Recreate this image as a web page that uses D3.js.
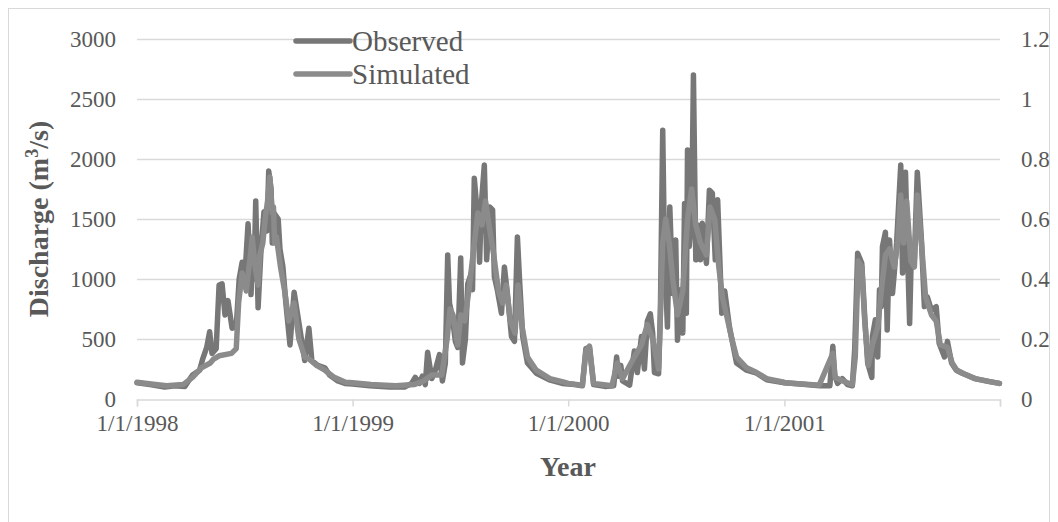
<!DOCTYPE html>
<html>
<head>
<meta charset="utf-8">
<script src="https://cdn.jsdelivr.net/npm/d3@7"></script>
<style>
  body { margin: 0; background: #fff; }
  svg { display: block; font-family: 'Liberation Serif', 'Times New Roman', serif; }
</style>
</head>
<body>
<div id="chart"></div>
<script>
// observed discharge, m3/s
var observedDates = [
  '1998-01-01','1998-01-23','1998-02-17','1998-03-06','1998-03-23','1998-04-05','1998-04-17','1998-04-22','1998-04-29','1998-05-04',
  '1998-05-08','1998-05-15','1998-05-20','1998-05-25','1998-05-30','1998-06-04','1998-06-11','1998-06-18','1998-06-23','1998-06-28',
  '1998-07-03','1998-07-08','1998-07-13','1998-07-16','1998-07-18','1998-07-21','1998-07-25','1998-07-30','1998-08-04','1998-08-09',
  '1998-08-12','1998-08-16','1998-08-18','1998-08-21','1998-08-28','1998-08-31','1998-09-05','1998-09-10','1998-09-17','1998-09-24',
  '1998-09-30','1998-10-07','1998-10-12','1998-10-19','1998-10-24','1998-11-03','1998-11-15','1998-11-23','1998-12-07','1998-12-19',
  '1999-01-01','1999-01-30','1999-03-05','1999-03-30','1999-04-11','1999-04-17','1999-04-24','1999-04-29','1999-05-04','1999-05-08',
  '1999-05-15','1999-05-21','1999-05-28','1999-06-02','1999-06-07','1999-06-11','1999-06-14','1999-06-19','1999-06-24','1999-06-28',
  '1999-07-03','1999-07-06','1999-07-11','1999-07-15','1999-07-21','1999-07-23','1999-07-26','1999-08-01','1999-08-04','1999-08-07',
  '1999-08-12','1999-08-16','1999-08-21','1999-08-26','1999-08-29','1999-09-03','1999-09-10','1999-09-15','1999-09-20','1999-09-27',
  '1999-10-02','1999-10-07','1999-10-11','1999-10-16','1999-10-24','1999-11-08','1999-11-30','1999-12-22',
  '2000-01-01','2000-01-12','2000-01-25','2000-01-31','2000-02-06','2000-02-13','2000-03-03','2000-03-18','2000-03-23','2000-03-26',
  '2000-03-30','2000-04-02','2000-04-14','2000-04-22','2000-04-27','2000-05-04','2000-05-09','2000-05-14','2000-05-19','2000-05-23',
  '2000-05-26','2000-06-02','2000-06-05','2000-06-09','2000-06-12','2000-06-17','2000-06-21','2000-06-26','2000-07-01','2000-07-04',
  '2000-07-09','2000-07-13','2000-07-16','2000-07-19','2000-07-21','2000-07-24','2000-07-28','2000-07-31','2000-08-04','2000-08-07',
  '2000-08-12','2000-08-15','2000-08-22','2000-08-27','2000-09-01','2000-09-06','2000-09-10','2000-09-17','2000-09-22','2000-09-30',
  '2000-10-12','2000-10-29','2000-11-15','2000-12-02',
  '2001-01-01','2001-01-27','2001-03-02','2001-03-19','2001-03-24','2001-03-27','2001-04-01','2001-04-09','2001-04-18','2001-04-26',
  '2001-04-30','2001-05-05','2001-05-12','2001-05-17','2001-05-22','2001-05-29','2001-05-30','2001-06-04','2001-06-08','2001-06-11',
  '2001-06-14','2001-06-16','2001-06-21','2001-06-24','2001-06-28','2001-07-03','2001-07-06','2001-07-10','2001-07-17','2001-07-20',
  '2001-07-25','2001-07-29','2001-08-01','2001-08-04','2001-08-09','2001-08-14','2001-08-21','2001-08-26','2001-08-31','2001-09-07',
  '2001-09-15','2001-09-20','2001-09-29','2001-10-04','2001-10-11','2001-10-19','2001-10-29','2001-11-19','2001-12-14','2001-12-31'
];
var observedValues = [
  135,120,100,110,105,200,240,330,430,560,
  380,420,950,960,700,820,590,600,1000,1140,
  1050,1460,870,1200,1000,1650,760,1250,1560,1400,
  1900,1750,1300,1550,1500,1250,1100,800,450,890,
  700,480,320,590,320,280,260,200,150,130,
  125,110,100,100,130,180,130,190,120,390,
  170,240,370,150,300,1200,800,680,480,430,
  1175,300,500,960,1050,910,1840,1490,1140,1630,
  1950,1160,1600,1575,1020,910,715,1100,880,520,
  480,1350,960,520,300,215,160,130,
  125,120,110,420,430,120,105,110,350,190,
  280,150,115,400,220,520,250,650,710,550,
  220,210,700,2240,1215,600,1600,880,1325,490,
  910,550,1630,715,2075,1270,1500,2700,1160,1450,
  1160,1465,1130,1740,1715,1160,1660,715,900,600,
  300,240,215,160,
  135,125,110,110,440,200,130,170,120,110,
  410,1215,1130,680,300,180,520,660,350,910,
  770,1270,1390,575,1325,880,1050,1300,1950,1050,
  1890,1130,630,1240,1160,1890,1325,770,850,740,
  770,465,350,480,300,240,215,170,145,130
];

// simulated discharge, m3/s
var simulatedDates = [
  '1998-01-01','1998-01-25','1998-02-20','1998-03-20','1998-04-05','1998-04-20','1998-05-05','1998-05-10','1998-05-20','1998-06-10',
  '1998-06-18','1998-06-22','1998-06-28','1998-07-05','1998-07-12','1998-07-15','1998-07-20','1998-07-25','1998-07-28','1998-08-02',
  '1998-08-06','1998-08-10','1998-08-14','1998-08-18','1998-08-20','1998-08-22','1998-08-25','1998-09-01','1998-09-08','1998-09-15',
  '1998-09-24','1998-10-02','1998-10-12','1998-10-20','1998-11-01','1998-11-15','1998-12-01','1998-12-20',
  '1999-01-01','1999-02-01','1999-03-15','1999-04-15','1999-05-01','1999-05-15','1999-06-01','1999-06-10','1999-06-15','1999-06-20',
  '1999-06-28','1999-07-03','1999-07-10','1999-07-18','1999-07-25','1999-08-01','1999-08-08','1999-08-14','1999-08-20','1999-08-28',
  '1999-09-05','1999-09-12','1999-09-18','1999-09-25','1999-10-03','1999-10-08','1999-10-15','1999-10-24','1999-11-08','1999-12-01',
  '1999-12-25',
  '2000-01-01','2000-01-25','2000-01-31','2000-02-06','2000-02-13','2000-03-15','2000-03-24','2000-04-02','2000-04-22','2000-05-04',
  '2000-05-14','2000-05-23','2000-06-02','2000-06-09','2000-06-14','2000-06-20','2000-06-26','2000-07-04','2000-07-13','2000-07-21',
  '2000-07-28','2000-08-04','2000-08-12','2000-08-22','2000-08-28','2000-09-05','2000-09-12','2000-09-18','2000-09-25','2000-10-04',
  '2000-10-12','2000-10-29','2000-11-15','2000-12-02','2000-12-31',
  '2001-01-01','2001-02-01','2001-03-01','2001-03-24','2001-03-28','2001-04-10','2001-04-26','2001-05-01','2001-05-06','2001-05-12',
  '2001-05-17','2001-05-23','2001-05-30','2001-06-08','2001-06-14','2001-06-21','2001-06-28','2001-07-06','2001-07-12','2001-07-17',
  '2001-07-22','2001-07-27','2001-08-03','2001-08-09','2001-08-14','2001-08-21','2001-08-28','2001-09-07','2001-09-15','2001-09-22',
  '2001-10-04','2001-10-12','2001-10-20','2001-11-01','2001-11-20','2001-12-15','2001-12-31'
];
var simulatedValues = [
  140,125,110,120,180,260,300,330,360,380,
  420,800,1050,900,1200,1350,1100,950,1200,1300,
  1500,1650,1850,1550,1600,1300,1350,1100,900,650,
  800,500,350,330,280,240,180,140,
  135,120,110,120,150,200,200,500,750,700,
  450,700,650,950,1250,1550,1450,1650,1450,1200,
  900,800,950,650,550,950,600,350,240,170,
  140,
  130,115,400,440,130,110,300,170,350,450,
  620,500,250,1300,1500,1300,1000,700,900,1500,
  1750,1450,1300,1200,1600,1500,1100,850,700,500,
  350,260,220,170,140,
  135,125,115,380,180,150,120,350,1150,1100,
  650,280,450,600,900,1200,1250,1100,1300,1700,
  1300,1650,1150,1100,1700,1300,850,700,650,450,
  430,300,240,210,170,145,130
];

var yTicksLeft = [0, 500, 1000, 1500, 2000, 2500, 3000];
var yTicksRight = [0, 0.2, 0.4, 0.6, 0.8, 1, 1.2];
var xTickDates = ['1998-01-01', '1999-01-01', '2000-01-01', '2001-01-01'];
var seriesNames = ['Observed', 'Simulated'];
var seriesColors = ['#777777', '#8b8b8b'];

var W = 1058, H = 522;
var margin = {left: 137, right: 58, top: 39, bottom: 123};
var parse = d3.timeParse('%Y-%m-%d');
var fmt = d3.timeFormat('%-m/%-d/%Y');

var svg = d3.select('#chart').append('svg')
    .attr('width', W)
    .attr('height', H);

// chart border (bottom edge falls outside the picture)
svg.append('rect')
    .attr('x', 8.5).attr('y', 8.5)
    .attr('width', W - 17).attr('height', H + 20)
    .attr('fill', 'none')
    .attr('stroke', '#d9d9d9');

var x = d3.scaleTime()
    .domain([parse('1998-01-01'), parse('2002-01-01')])
    .range([margin.left, W - margin.right]);
var y = d3.scaleLinear()
    .domain([0, 3000])
    .range([H - margin.bottom, margin.top]);
var y2 = d3.scaleLinear()
    .domain([0, 1.2])
    .range([H - margin.bottom, margin.top]);

// gridlines
svg.append('g').selectAll('line')
    .data(yTicksLeft.filter(function(d) { return d > 0; }))
    .enter().append('line')
    .attr('x1', margin.left).attr('x2', W - margin.right)
    .attr('y1', function(d) { return Math.round(y(d)) + 0.5; })
    .attr('y2', function(d) { return Math.round(y(d)) + 0.5; })
    .attr('stroke', '#d9d9d9')
    .attr('stroke-width', 1.5);

// left axis labels
svg.append('g').selectAll('text')
    .data(yTicksLeft)
    .enter().append('text')
    .attr('x', 116)
    .attr('y', function(d) { return y(d) + 8; })
    .attr('text-anchor', 'end')
    .attr('font-size', 23)
    .attr('fill', '#595959')
    .text(function(d) { return d; });

// right axis labels
svg.append('g').selectAll('text')
    .data(yTicksRight)
    .enter().append('text')
    .attr('x', 1021)
    .attr('y', function(d) { return y2(d) + 8; })
    .attr('text-anchor', 'start')
    .attr('font-size', 23)
    .attr('fill', '#595959')
    .text(function(d) { return d; });

// x axis
var xAxis = d3.axisBottom(x)
    .tickValues(xTickDates.map(parse).concat([parse('2002-01-01')]))
    .tickSize(7)
    .tickFormat(function(d) { return xTickDates.indexOf(d3.timeFormat('%Y-%m-%d')(d)) >= 0 ? fmt(d) : ''; });

var gx = svg.append('g')
    .attr('transform', 'translate(0,' + (H - margin.bottom + 0.5) + ')')
    .call(xAxis);
gx.select('.domain').attr('stroke', '#d9d9d9').attr('stroke-width', 1.5);
gx.selectAll('.tick line').attr('stroke', '#d9d9d9').attr('stroke-width', 1.5);
gx.selectAll('.tick text')
    .attr('font-family', 'Liberation Serif, Times New Roman, serif')
    .attr('font-size', 23)
    .attr('fill', '#595959')
    .attr('dy', '0.95em');

// series
var line = d3.line()
    .x(function(d) { return x(d.date); })
    .y(function(d) { return y(d.value); });

function buildSeries(dates, values) {
    return dates.map(function(d, i) { return {date: parse(d), value: values[i]}; });
}

var series = [
    buildSeries(observedDates, observedValues),
    buildSeries(simulatedDates, simulatedValues)
];

svg.append('g').selectAll('path')
    .data(series)
    .enter().append('path')
    .attr('d', line)
    .attr('fill', 'none')
    .attr('stroke', function(d, i) { return seriesColors[i]; })
    .attr('stroke-width', 5.5)
    .attr('stroke-linejoin', 'round')
    .attr('stroke-linecap', 'round');

// legend
var legend = svg.append('g').selectAll('g')
    .data(seriesNames)
    .enter().append('g')
    .attr('transform', function(d, i) { return 'translate(296,' + (41 + i * 33) + ')'; });
legend.append('line')
    .attr('x1', 0).attr('x2', 54)
    .attr('stroke', function(d, i) { return seriesColors[i]; })
    .attr('stroke-width', 5.5)
    .attr('stroke-linecap', 'round');
legend.append('text')
    .attr('x', 56)
    .attr('y', 10)
    .attr('font-size', 29)
    .attr('fill', '#595959')
    .text(function(d) { return d; });

// axis titles
svg.append('text')
    .attr('transform', 'translate(48,219) rotate(-90)')
    .attr('text-anchor', 'middle')
    .attr('font-size', 28)
    .attr('font-weight', 'bold')
    .attr('fill', '#595959')
    .text('Discharge (m')
    .append('tspan').attr('dy', -10).attr('font-size', 18).text('3')
    .select(function() { return this.parentNode; })
    .append('tspan').attr('dy', 10).text('/s)');

svg.append('text')
    .attr('x', 568)
    .attr('y', 476)
    .attr('text-anchor', 'middle')
    .attr('font-size', 28)
    .attr('font-weight', 'bold')
    .attr('fill', '#595959')
    .text('Year');
</script>
</body>
</html>
